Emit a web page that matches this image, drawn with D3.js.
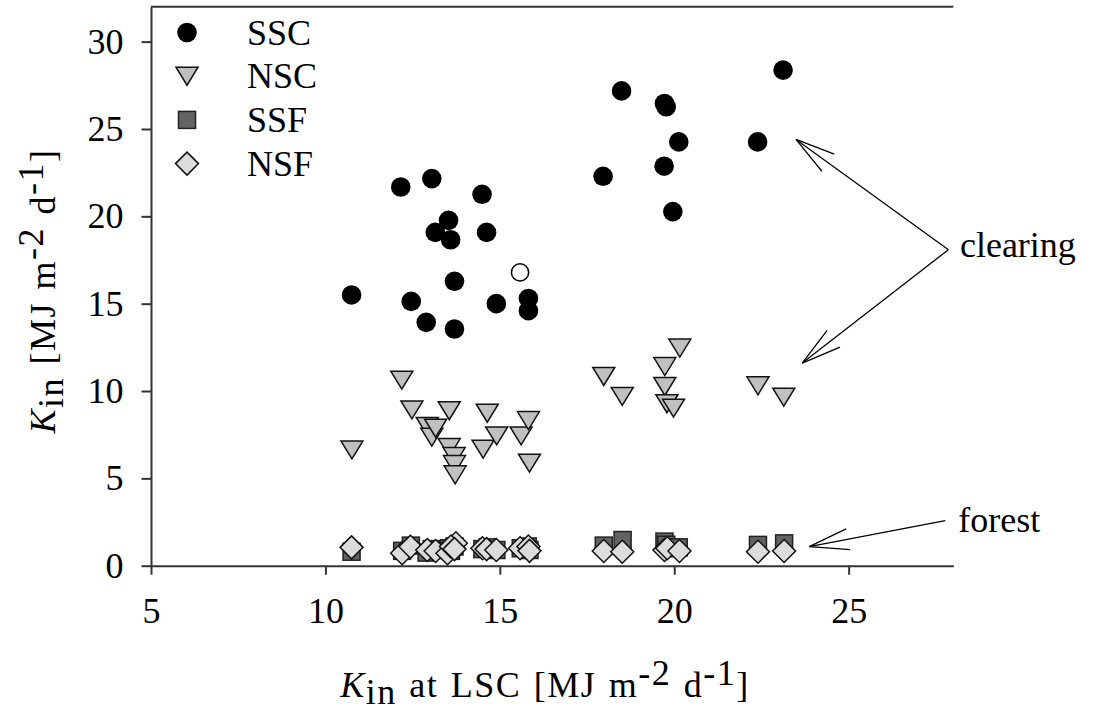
<!DOCTYPE html>
<html>
<head>
<meta charset="utf-8">
<script src="https://cdn.jsdelivr.net/npm/d3@7"></script>
<style>
body { margin: 0; background: #fff; }
svg { display: block; font-family: "Liberation Serif", "Times New Roman", serif; }
.axis text { font-size: 36px; fill: #000; font-family: "Liberation Serif", serif; }
.axis path, .axis line { stroke: #333; stroke-width: 2; }
.title { font-size: 36px; fill: #000; }
.axtitle { font-size: 36px; fill: #000; letter-spacing: 1.5px; word-spacing: 2px; }
</style>
</head>
<body>
<div id="chart"></div>
<script>
// Data: [Kin at LSC, Kin]
var sscPoints = [[10.75,15.5],[12.16,21.68],[12.46,15.13],[12.89,13.93],[13.05,22.16],[13.15,19.08],
    [13.53,19.77],[13.59,18.66],[13.70,16.28],[13.70,13.55],[14.49,21.26],[14.62,19.08],[14.90,15.0],
    [15.82,15.3],[15.82,14.6],[17.96,22.29],[18.49,27.18],[19.71,22.87],[19.72,26.46],[19.77,26.27],
    [19.96,20.27],[20.13,24.26],[22.39,24.26],[23.12,28.37]];
var sscOpen = [[15.58,16.79]];
var nscPoints = [[10.76,6.63],[12.19,10.62],[12.48,8.92],[12.92,7.97],[13.05,7.36],[13.16,7.87],
    [13.55,8.87],[13.55,6.76],[13.69,6.25],[13.70,5.79],[13.72,5.20],[14.52,6.67],[14.64,8.73],
    [14.91,7.43],[15.61,7.43],[15.82,8.31],[15.85,5.87],[17.98,10.83],[18.51,9.69],[19.73,11.40],
    [19.73,10.26],[19.79,9.27],[19.98,9.02],[20.16,12.46],[22.40,10.30],[23.14,9.65]];
var ssfPoints = [[10.75,0.8],[12.2,0.85],[12.45,1.15],[12.9,0.75],[13.05,0.95],[13.2,0.9],[13.55,1.0],
    [13.6,0.85],[13.7,1.1],[14.5,0.95],[14.65,1.05],[14.9,0.9],[15.6,1.0],[15.8,1.1],[15.85,0.9],
    [17.98,1.15],[18.52,1.47],[19.72,1.38],[19.77,1.2],[19.95,1.0],[20.13,1.05],[22.4,1.19],[23.15,1.28]];
var nsfPoints = [[10.75,1.05],[12.2,0.71],[12.44,1.09],[12.92,0.9],[13.16,0.84],[13.5,0.71],[13.74,1.28],
    [13.6,1.1],[13.7,0.95],[14.5,1.0],[14.62,0.95],[14.9,0.9],[15.58,1.0],[15.82,1.1],[15.85,0.85],
    [17.98,0.84],[18.51,0.8],[19.72,0.9],[19.8,1.0],[20.15,0.84],[22.4,0.8],[23.15,0.84]];

var legendLabels = ["SSC", "NSC", "SSF", "NSF"];
var xTicks = [5, 10, 15, 20, 25];
var yTicks = [0, 5, 10, 15, 20, 25, 30];

// annotation arrows (data units): label, tail, tips
var clearingTail = [27.86, 18.09];
var clearingTips = [[23.49, 24.40], [23.67, 11.60]];
var clearingLabel = [28.19, 17.69];
var forestTail = [27.77, 2.58];
var forestTips = [[23.87, 1.09]];
var forestLabel = [28.14, 1.95];

var svgWidth = 1096, svgHeight = 712;
var plotLeft = 151, plotRight = 953.3, plotTop = 6.7, plotBottom = 565.7;

var xScale = d3.scaleLinear().domain([5, 28]).range([plotLeft, plotRight]);
var yScale = d3.scaleLinear().domain([0, 32]).range([plotBottom, plotTop]);

var svg = d3.select("#chart").append("svg")
    .attr("width", svgWidth)
    .attr("height", svgHeight);

// Axes
svg.append("g")
    .attr("class", "x axis")
    .attr("transform", "translate(0," + plotBottom + ")")
    .call(d3.axisBottom(xScale).tickValues(xTicks).tickSize(9).tickSizeOuter(0).tickPadding(23));

svg.append("g")
    .attr("class", "y axis")
    .attr("transform", "translate(" + plotLeft + ",0)")
    .call(d3.axisLeft(yScale).tickValues(yTicks).tickSize(9.5).tickSizeOuter(0).tickPadding(18));

// top frame line
svg.append("line")
    .attr("x1", xScale(5)).attr("x2", xScale(28))
    .attr("y1", yScale(32)).attr("y2", yScale(32))
    .attr("stroke", "#333").attr("stroke-width", 2);

// marker shapes
function addMarker(g, type) {
    if (type == "SSC") {
        g.append("circle").attr("r", 9.8).attr("fill", "#000");
    } else if (type == "open") {
        g.append("circle").attr("r", 8.6).attr("fill", "#fff").attr("stroke", "#000").attr("stroke-width", 1.5);
    } else if (type == "NSC") {
        g.append("path").attr("d", "M-11,-9L11,-9L0,9Z")
            .attr("fill", "#c0c0c0").attr("stroke", "#111").attr("stroke-width", 1.5);
    } else if (type == "SSF") {
        g.append("rect").attr("x", -8.5).attr("y", -8.5).attr("width", 17).attr("height", 17)
            .attr("fill", "#636363").attr("stroke", "#222").attr("stroke-width", 1.5);
    } else if (type == "NSF") {
        g.append("path").attr("d", "M0,-11.5L11.5,0L0,11.5L-11.5,0Z")
            .attr("fill", "#dcdcdc").attr("stroke", "#111").attr("stroke-width", 1.5);
    }
}

function drawSeries(points, type) {
    svg.append("g").selectAll("g")
        .data(points)
        .enter().append("g")
        .attr("transform", function (d) { return "translate(" + xScale(d[0]) + "," + yScale(d[1]) + ")"; })
        .each(function () { addMarker(d3.select(this), type); });
}

drawSeries(sscPoints, "SSC");
drawSeries(sscOpen, "open");
drawSeries(nscPoints, "NSC");
drawSeries(ssfPoints, "SSF");
drawSeries(nsfPoints, "NSF");

// Legend
var legend = svg.append("g").attr("transform", "translate(187,32.5)");
legendLabels.forEach(function (lab, i) {
    var row = legend.append("g").attr("transform", "translate(0," + (i * 43.7) + ")");
    addMarker(row, lab);
    row.append("text").attr("class", "title")
        .attr("x", 60).attr("y", 12)
        .text(lab);
});

// Annotation arrows
function drawArrow(tail, tip) {
    var x0 = xScale(tail[0]), y0 = yScale(tail[1]);
    var x1 = xScale(tip[0]), y1 = yScale(tip[1]);
    svg.append("line").attr("x1", x0).attr("y1", y0).attr("x2", x1).attr("y2", y1)
        .attr("stroke", "#000").attr("stroke-width", 1.3);
    var ang = Math.atan2(y0 - y1, x0 - x1);
    [-0.26, 0.26].forEach(function (da) {
        svg.append("line")
            .attr("x1", x1).attr("y1", y1)
            .attr("x2", x1 + 41 * Math.cos(ang + da))
            .attr("y2", y1 + 41 * Math.sin(ang + da))
            .attr("stroke", "#000").attr("stroke-width", 1.3);
    });
}
clearingTips.forEach(function (t) { drawArrow(clearingTail, t); });
forestTips.forEach(function (t) { drawArrow(forestTail, t); });

svg.append("text").attr("class", "title")
    .attr("x", xScale(clearingLabel[0])).attr("y", yScale(clearingLabel[1]))
    .text("clearing");
svg.append("text").attr("class", "title")
    .attr("x", xScale(forestLabel[0])).attr("y", yScale(forestLabel[1]))
    .text("forest");

// Axis titles
var xt = svg.append("text").attr("class", "axtitle")
    .attr("text-anchor", "middle")
    .attr("x", 545).attr("y", 697);
xt.append("tspan").attr("font-style", "italic").text("K");
xt.append("tspan").attr("dy", 7).text("in");
xt.append("tspan").attr("dy", -7).text(" at LSC [MJ m");
xt.append("tspan").attr("dy", -12).text("-2");
xt.append("tspan").attr("dy", 12).text(" d");
xt.append("tspan").attr("dy", -12).text("-1");
xt.append("tspan").attr("dy", 12).text("]");

var yt = svg.append("text").attr("class", "axtitle")
    .attr("text-anchor", "middle")
    .attr("transform", "translate(55,291) rotate(-90)");
yt.append("tspan").attr("font-style", "italic").text("K");
yt.append("tspan").attr("dy", 8).text("in");
yt.append("tspan").attr("dy", -8).text(" [MJ m");
yt.append("tspan").attr("dy", -12).text("-2");
yt.append("tspan").attr("dy", 12).text(" d");
yt.append("tspan").attr("dy", -12).text("-1");
yt.append("tspan").attr("dy", 12).text("]");
</script>
</body>
</html>
